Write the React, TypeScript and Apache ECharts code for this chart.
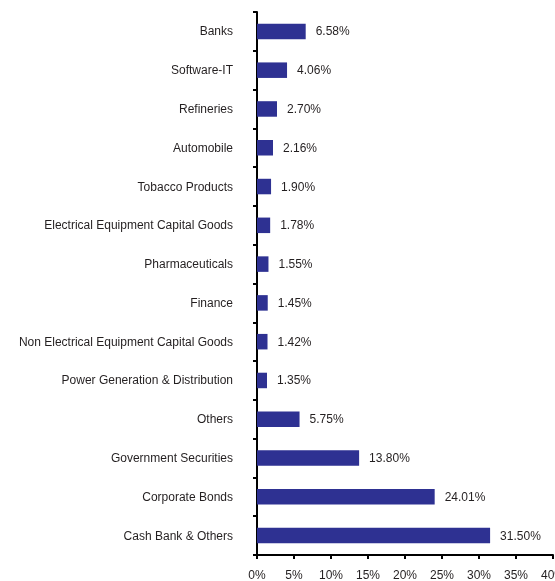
import React, { useEffect, useRef } from "react";
import * as echarts from "echarts";

const categories = [
  "Banks",
  "Software-IT",
  "Refineries",
  "Automobile",
  "Tobacco Products",
  "Electrical Equipment Capital Goods",
  "Pharmaceuticals",
  "Finance",
  "Non Electrical Equipment Capital Goods",
  "Power Generation & Distribution",
  "Others",
  "Government Securities",
  "Corporate Bonds",
  "Cash Bank & Others",
];
const values = [6.58, 4.06, 2.7, 2.16, 1.9, 1.78, 1.55, 1.45, 1.42, 1.35, 5.75, 13.8, 24.01, 31.5];

export default function App() {
  const ref = useRef<HTMLDivElement>(null);
  useEffect(() => {
    if (!ref.current) return;
    const chart = echarts.init(ref.current, null, { renderer: "svg" });
    const font = "Liberation Sans, Arial, sans-serif";
    chart.setOption({
      animation: false,
      grid: { left: 257, right: 2, top: 12, bottom: 26, containLabel: false, outerBoundsMode: "none" },
      xAxis: {
        type: "value",
        min: 0,
        max: 40,
        interval: 5,
        splitLine: { show: false },
        axisLine: { show: true, lineStyle: { color: "#000", width: 2 } },
        axisTick: { show: true, length: 4, lineStyle: { color: "#000", width: 2 } },
        axisLabel: {
          formatter: "{value}%",
          fontFamily: font,
          fontSize: 12,
          color: "#231F20",
          margin: 14,
        },
      },
      yAxis: {
        type: "category",
        data: categories,
        inverse: true,
        axisLine: { show: true, lineStyle: { color: "#000", width: 2 } },
        axisTick: { show: true, length: 4, alignWithLabel: false, lineStyle: { color: "#000", width: 2 } },
        axisLabel: {
          fontFamily: font,
          fontSize: 12,
          color: "#231F20",
          margin: 24,
        },
      },
      series: [
        {
          type: "bar",
          data: values,
          barWidth: "40%",
          itemStyle: { color: "#2E3192" },
          label: {
            show: true,
            position: "right",
            distance: 10,
            formatter: (p: any) => p.value.toFixed(2) + "%",
            fontFamily: font,
            fontSize: 12,
            color: "#231F20",
          },
        },
      ],
    });
    return () => chart.dispose();
  }, []);
  return (
    <div
      ref={ref}
      style={{ position: "fixed", left: 0, top: 0, width: 555, height: 581 }}
    />
  );
}
